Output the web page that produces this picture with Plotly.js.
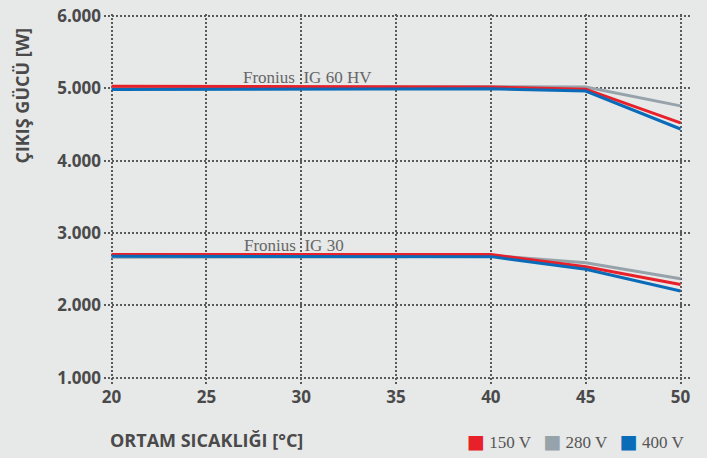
<!DOCTYPE html>
<html><head><meta charset="utf-8">
<script src="https://cdn.plot.ly/plotly-3.0.1.min.js"></script>
<style>html,body{margin:0;padding:0;background:#e7e8e8;}#chart{width:707px;height:458px;}</style>
</head><body><div id="chart"></div>
<script>
const temps = [20, 25, 30, 35, 40, 45, 50];
const seriesNames = ['150 V', '280 V', '400 V'];
const colors = ['#e8202a', '#97a3ab', '#0a6cb8'];
// Fronius IG 60 HV
const hv150 = [5030, 5030, 5030, 5030, 5020, 4990, 4525];
const hv280 = [5010, 5010, 5015, 5020, 5025, 5020, 4760];
const hv400 = [4985, 4990, 4995, 5000, 4995, 4965, 4440];
// Fronius IG 30
const ig150 = [2705, 2705, 2705, 2705, 2705, 2535, 2290];
const ig280 = [2665, 2665, 2670, 2675, 2690, 2590, 2370];
const ig400 = [2680, 2680, 2680, 2680, 2675, 2500, 2200];
const yTicks = [1000, 2000, 3000, 4000, 5000, 6000];
const yTickText = ['1.000', '2.000', '3.000', '4.000', '5.000', '6.000'];
const xTicks = [20, 25, 30, 35, 40, 45, 50];

const sets = [[hv280, hv150, hv400], [ig280, ig150, ig400]];
const order = [1, 0, 2];
const traces = [];
sets.forEach(set => {
  set.forEach((vals, i) => {
    const ci = order[i];
    traces.push({x: temps, y: vals, mode: 'lines', name: seriesNames[ci], line: {color: colors[ci], width: 3}, showlegend: false, hoverinfo: 'skip'});
  });
});

const legendText = seriesNames.map((n, i) =>
  '<span style="color:' + colors[i] + ';font-size:19px;font-family:DejaVu Sans">■</span> ' + n).join('   ');

const tickFont = {family: 'Open Sans', size: 17, color: '#4a4a4a', weight: 'bold'};
const layout = {
  width: 707, height: 458,
  paper_bgcolor: '#e7e8e8', plot_bgcolor: '#e7e8e8',
  margin: {l: 104, r: 17, t: 14, b: 73, autoexpand: false},
  xaxis: {range: [19.6, 50.5], tickvals: xTicks, showgrid: true, gridcolor: '#5a5a5a', griddash: '1.6px,2.4px', gridwidth: 1.8,
    zeroline: false, showline: false, ticks: '', ticklabelstandoff: 0, tickfont: tickFont},
  yaxis: {range: [900, 6030], tickvals: yTicks, ticktext: yTickText, showgrid: true, gridcolor: '#5a5a5a', griddash: '1.6px,2.4px', gridwidth: 1.8,
    zeroline: false, showline: false, ticks: '', ticklabelstandoff: 2, tickfont: tickFont},
  showlegend: false,
  annotations: [
    {text: 'Fronius  IG 60 HV', x: 30.33, y: 5150, xref: 'x', yref: 'y', showarrow: false,
      font: {family: 'Liberation Serif', size: 17, color: '#666'}},
    {text: 'Fronius  IG 30', x: 29.6, y: 2830, xref: 'x', yref: 'y', showarrow: false,
      font: {family: 'Liberation Serif', size: 17, color: '#666'}},
    {text: 'ÇIKIŞ GÜCÜ [W]', xref: 'paper', yref: 'paper', x: -0.14, y: 0.78, xanchor: 'center', yanchor: 'middle', textangle: -90, showarrow: false,
      font: {family: 'Open Sans', size: 18, color: '#4a4a4a', weight: 'bold'}},
    {text: 'ORTAM SICAKLIĞI [°C]', xref: 'paper', yref: 'paper', x: 0.006, y: -0.148, xanchor: 'left', yanchor: 'middle', showarrow: false,
      font: {family: 'Open Sans', size: 18, color: '#4a4a4a', weight: 'bold'}},
    {text: legendText, xref: 'paper', yref: 'paper', x: 0.994, y: -0.15, xanchor: 'right', yanchor: 'middle', showarrow: false,
      font: {family: 'Liberation Serif', size: 17, color: '#555'}}
  ]
};
Plotly.newPlot('chart', traces, layout, {displayModeBar: false});
</script></body></html>
